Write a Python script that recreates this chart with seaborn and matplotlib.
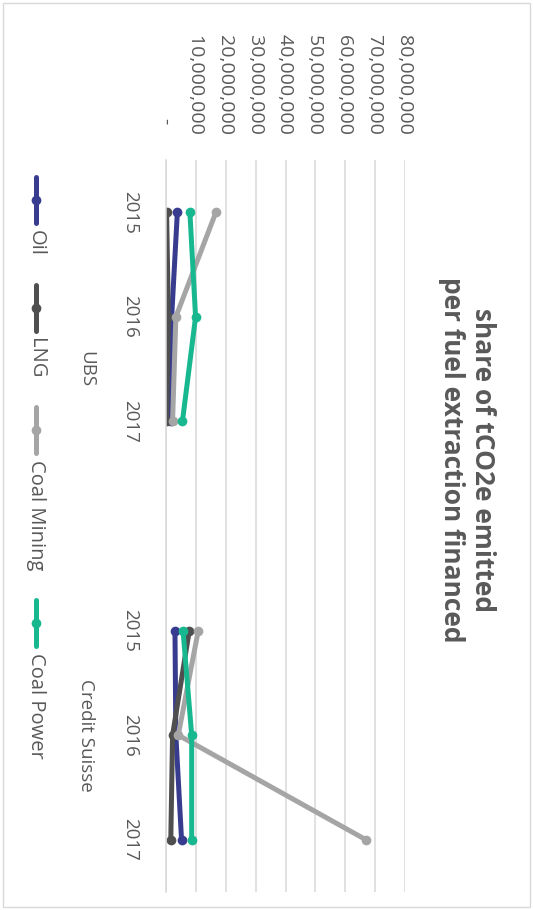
import matplotlib
matplotlib.use('Agg')
import numpy as np
import pandas as pd
import matplotlib.pyplot as plt
import matplotlib.transforms as mtransforms
from matplotlib.lines import Line2D
from matplotlib.patches import Rectangle
import seaborn as sns

# ── Data ────────────────────────────────────────────────────────────────
banks = ['UBS', 'Credit Suisse']
years = ['2015', '2016', '2017']
fuels = ['Oil', 'LNG', 'Coal Mining', 'Coal Power']

# tCO2e, one value per year (2015, 2016, 2017)
ubs_oil         = [3.8e6, 1.9e6, 1.6e6]
ubs_lng         = [0.2e6, 0.8e6, 0.2e6]
ubs_coal_mining = [16.7e6, 3.3e6, 2.2e6]
ubs_coal_power  = [8.0e6, 9.9e6, 5.5e6]

cs_oil          = [3.0e6, 3.3e6, 5.2e6]
cs_lng          = [7.8e6, 2.2e6, 1.6e6]
cs_coal_mining  = [10.8e6, 4.1e6, 66.9e6]
cs_coal_power   = [5.7e6, 8.6e6, 8.6e6]

value_ticks = [0, 10e6, 20e6, 30e6, 40e6, 50e6, 60e6, 70e6, 80e6]

# ── Styling ─────────────────────────────────────────────────────────────
COLORS = {
    'Oil':         '#383C8E',
    'LNG':         '#4F4F4F',
    'Coal Mining': '#A5A5A5',
    'Coal Power':  '#17B890',
}
TEXT = '#595959'
GRID = '#D9D9D9'

sns.set_theme(style='white')
plt.rcParams['font.family'] = ['Open Sans', 'DejaVu Sans']

W, H = 533, 910


def fx(x):
    return x / W


def fy(y):
    return 1 - y / H


# ── Build long table ────────────────────────────────────────────────────
series = {
    'UBS': [ubs_oil, ubs_lng, ubs_coal_mining, ubs_coal_power],
    'Credit Suisse': [cs_oil, cs_lng, cs_coal_mining, cs_coal_power],
}
rows = []
for b, bank in enumerate(banks):
    for fuel, vals in zip(fuels, series[bank]):
        for i, (yr, v) in enumerate(zip(years, vals)):
            # one blank category slot between the two banks
            rows.append({'bank': bank, 'fuel': fuel, 'year': yr,
                         'slot': b * 4 + i + 0.5, 'value': v})
df = pd.DataFrame(rows)

# ── Figure (chart is drawn rotated 90° clockwise) ───────────────────────
fig = plt.figure(figsize=(W / 100, H / 100), dpi=100)
fig.patch.set_facecolor('white')
ax = fig.add_axes([fx(166), fy(892), fx(405) - fx(166), fy(160) - fy(892)])

LW, MS = 3.6, 7

sns.lineplot(data=df, x='value', y='slot', hue='fuel', hue_order=fuels,
             palette=COLORS, units='bank', estimator=None, orient='y',
             sort=False, marker='o', markersize=MS, markeredgewidth=0,
             linewidth=LW, legend=False, ax=ax)

ax.set_xlim(0, 80e6)
ax.set_ylim(7, 0)
ax.set_xlabel('')
ax.set_ylabel('')

# value axis (top)
ax.set_xticks(value_ticks)
ax.set_xticklabels(['-   ' if v == 0 else f'{v:,.0f} ' for v in value_ticks])
ax.xaxis.tick_top()
ax.tick_params(axis='x', length=0, pad=15, labelsize=14, labelcolor=TEXT,
               labelrotation=270)
ax.grid(axis='x', color=GRID, lw=1.1)
ax.grid(axis='y', visible=False)

# category axis (left)
slots = sorted(df['slot'].unique())
ax.set_yticks(slots)
ax.set_yticklabels(years * len(banks))
ax.tick_params(axis='y', length=0, pad=19, labelsize=13.5, labelcolor=TEXT,
               labelrotation=270)
for lbl in ax.get_yticklabels():
    lbl.set_va('center')

for side in ('top', 'right', 'bottom'):
    ax.spines[side].set_visible(False)
ax.spines['left'].set_color(GRID)
ax.spines['left'].set_linewidth(1.1)

# bank labels centred on their group (UBS group includes the blank slot)
blend = mtransforms.blended_transform_factory(fig.transFigure, ax.transData)
for bank, centre in zip(banks, [2.0, 5.5]):
    ax.text(fx(86), centre, bank, transform=blend, rotation=270,
            ha='center', va='center', fontsize=13.5, color=TEXT)

# title
fig.text(fx(467), fy(460), 'share of tCO2e emitted\nper fuel extraction financed',
         rotation=270, ha='center', va='center', multialignment='center',
         fontsize=19, fontweight='bold', color=TEXT, linespacing=1.2)

# legend, laid out top-to-bottom
renderer = fig.canvas.get_renderer()
y = 177
handle_len = 46
for fuel in fuels:
    c = COLORS[fuel]
    fig.add_artist(Line2D([fx(36), fx(36)], [fy(y), fy(y + handle_len)],
                          color=c, lw=LW, transform=fig.transFigure))
    fig.add_artist(Line2D([fx(36)], [fy(y + handle_len / 2)], color=c,
                          marker='o', markersize=MS, markeredgewidth=0,
                          transform=fig.transFigure))
    t = fig.text(fx(36), fy(y + handle_len + 7), fuel, rotation=270,
                 ha='center', va='top', fontsize=14.5, color=TEXT)
    ext = t.get_window_extent(renderer)
    y = y + handle_len + 7 + ext.height + 29

# chart border
fig.add_artist(Rectangle((fx(3), fy(907)), fx(530) - fx(3), fy(3) - fy(907),
                         transform=fig.transFigure, fill=False,
                         edgecolor=GRID, lw=1))

fig.savefig('out.png', dpi=100, facecolor='white')
